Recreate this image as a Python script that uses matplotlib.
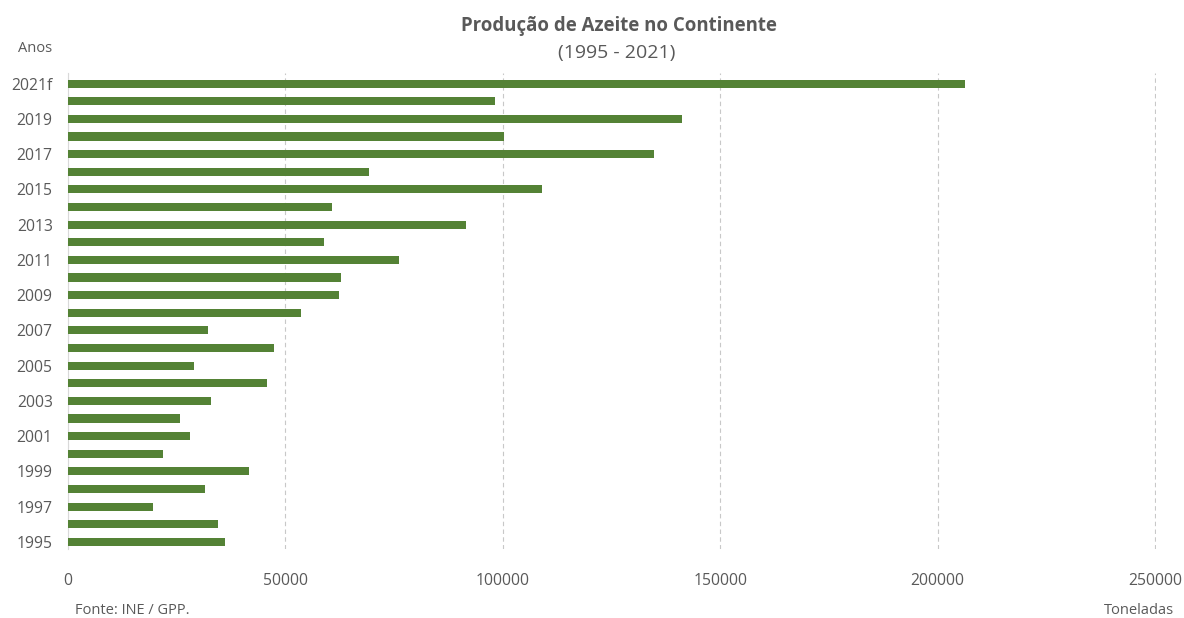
import matplotlib.pyplot as plt
import numpy as np

plt.rcParams['font.family'] = ['Open Sans', 'DejaVu Sans']

# Produção de azeite (toneladas), 1995 -> 2021f
years = ["1995", "1996", "1997", "1998", "1999", "2000", "2001", "2002", "2003",
         "2004", "2005", "2006", "2007", "2008", "2009", "2010", "2011", "2012",
         "2013", "2014", "2015", "2016", "2017", "2018", "2019", "2020", "2021f"]
production = [36100, 34500, 19500, 31500, 41600, 21800, 28100, 25800, 32900,
              45800, 29000, 47400, 32200, 53600, 62300, 62800, 76100, 58900,
              91500, 60700, 109000, 69200, 134800, 100300, 141200, 98200, 206300]

txt = "#595959"
green = "#548235"

fig = plt.figure(figsize=(11.84, 6.18), dpi=100)
ax = fig.add_axes([68/1184, 1 - 549/618, (1156-68)/1184, (549-73)/618])

y = np.arange(len(years))
ax.barh(y, production, height=0.46, color=green, zorder=3)

ax.set_xlim(0, 250250)
ax.set_ylim(-0.4, len(years) - 0.4)
ax.set_xticks(np.arange(0, 250001, 50000))
ax.set_xticklabels([str(v) for v in range(0, 250001, 50000)])
ax.set_yticks(y)
ax.set_yticklabels([yr if i % 2 == 0 else "" for i, yr in enumerate(years)])

ax.grid(axis="x", linestyle=(0, (4, 3)), color="#c8c8c8", linewidth=0.8, zorder=0)
for s in ["top", "right", "bottom"]:
    ax.spines[s].set_visible(False)
ax.spines["left"].set_color("#d9d9d9")
ax.tick_params(axis="both", length=0, labelsize=11.3, colors=txt)
ax.tick_params(axis="x", pad=17)
ax.tick_params(axis="y", pad=11)

fig.text(0.523, 1 - 26/618, "Produção de Azeite no Continente", ha="center", va="center",
         fontsize=13.4, fontweight="bold", color=txt)
fig.text(0.521, 1 - 53/618, "(1995 - 2021)", ha="center", va="center", fontsize=14, color=txt)
fig.text(35/1184, 1 - 49/618, "Anos", ha="center", va="center", fontsize=10.5, color=txt)
fig.text(75/1184, 1 - 610/618, "Fonte: INE / GPP.", ha="left", va="center", fontsize=10.5, color=txt)
fig.text(1104/1184, 1 - 610/618, "Toneladas", ha="left", va="center", fontsize=10.5, color=txt)

fig.savefig("out.png", dpi=100)
